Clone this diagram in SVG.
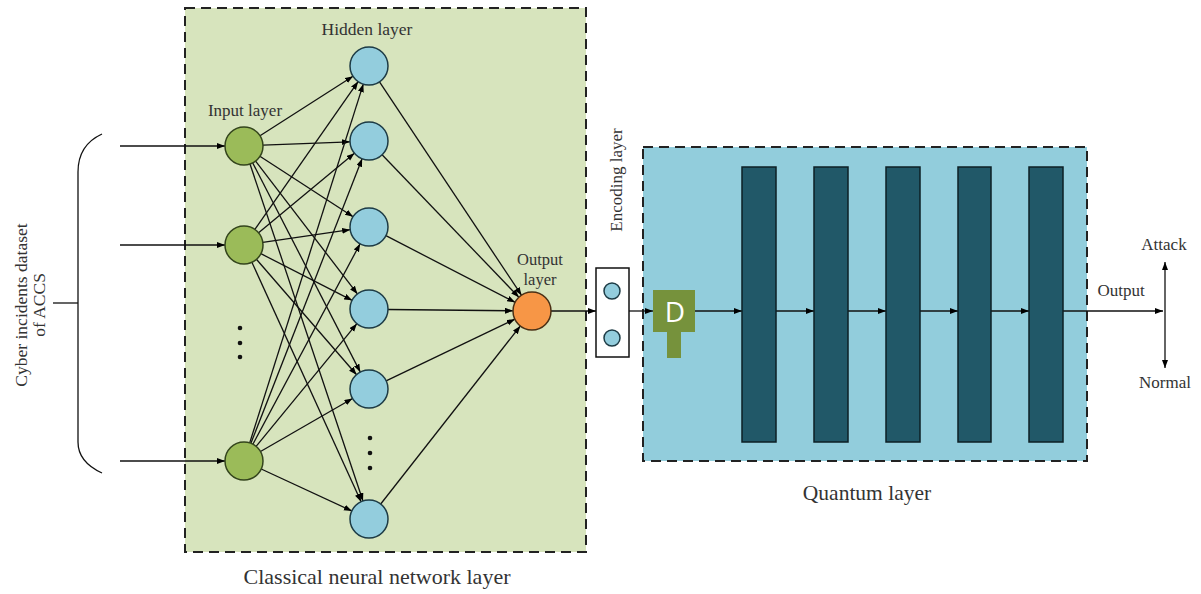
<svg xmlns="http://www.w3.org/2000/svg" width="1201" height="594" viewBox="0 0 1201 594">
<defs>
<marker id="ah" markerUnits="userSpaceOnUse" markerWidth="9" markerHeight="7" refX="8" refY="3" orient="auto">
<path d="M0,0 L8,3 L0,6 z" fill="#000"/>
</marker>
<style>
.lbl{font-family:"Liberation Serif",serif;fill:#333;}
.edge{stroke:#111;stroke-width:1.3;fill:none;marker-end:url(#ah);}
.plain{stroke:#111;stroke-width:1.3;fill:none;}
.inp{fill:#9bbb59;stroke:#33441c;stroke-width:1.5;}
.hid{fill:#93cddd;stroke:#1d3b45;stroke-width:1.5;}
.bar{fill:#215868;stroke:#0d1f25;stroke-width:1.5;}
.dot{fill:#111;}
</style>
</defs>
<rect width="1201" height="594" fill="#fff"/>

<g id="classical-box">
<rect x="185" y="8" width="401" height="544" fill="#d7e4bd" stroke="#222" stroke-width="2" stroke-dasharray="10,6"/>
</g>
<g id="quantum-box">
<rect x="643" y="147" width="444" height="314" fill="#92cddc" stroke="#222" stroke-width="2" stroke-dasharray="10,6"/>
</g>

<g id="dataset">
<path class="plain" d="M102,134 Q78,145 78,172 L78,442 Q78,462 102,473" stroke-width="1.8"/>
<line class="plain" x1="53" y1="303" x2="78" y2="303" stroke-width="1.8"/>
<text class="lbl" font-size="17.5" text-anchor="middle" transform="translate(27,305) rotate(-90)">Cyber incidents dataset</text>
<text class="lbl" font-size="17.5" text-anchor="middle" transform="translate(45,305) rotate(-90)">of ACCS</text>
</g>

<g id="connectors">
<line class="edge" x1="120" y1="146" x2="225" y2="146"/>
<line class="edge" x1="120" y1="245" x2="225" y2="245"/>
<line class="edge" x1="120" y1="461" x2="225" y2="461"/>

<line class="edge" x1="260.0" y1="135.8" x2="353.0" y2="76.2"/>
<line class="edge" x1="263.0" y1="145.2" x2="350.0" y2="141.8"/>
<line class="edge" x1="259.9" y1="156.3" x2="353.1" y2="216.7"/>
<line class="edge" x1="255.6" y1="161.1" x2="357.4" y2="293.9"/>
<line class="edge" x1="252.7" y1="162.9" x2="360.3" y2="372.1"/>
<line class="edge" x1="250.0" y1="164.0" x2="363.0" y2="501.0"/>

<line class="edge" x1="254.9" y1="229.4" x2="358.1" y2="81.6"/>
<line class="edge" x1="258.6" y1="232.8" x2="354.4" y2="153.2"/>
<line class="edge" x1="262.8" y1="242.3" x2="350.2" y2="229.7"/>
<line class="edge" x1="260.9" y1="253.7" x2="352.1" y2="300.3"/>
<line class="edge" x1="256.4" y1="259.3" x2="356.6" y2="374.7"/>
<line class="edge" x1="251.9" y1="262.3" x2="361.1" y2="501.7"/>

<line class="edge" x1="249.7" y1="442.9" x2="363.3" y2="84.1"/>
<line class="edge" x1="250.9" y1="443.3" x2="362.1" y2="158.7"/>
<line class="edge" x1="252.9" y1="444.2" x2="360.1" y2="243.8"/>
<line class="edge" x1="256.1" y1="446.3" x2="356.9" y2="323.7"/>
<line class="edge" x1="260.5" y1="451.5" x2="352.5" y2="398.5"/>
<line class="edge" x1="261.2" y1="469.0" x2="351.9" y2="511.0"/>

<line class="edge" x1="379.5" y1="81.8" x2="521.5" y2="295.2"/>
<line class="edge" x1="382.1" y1="154.7" x2="518.9" y2="297.3"/>
<line class="edge" x1="385.9" y1="235.7" x2="515.1" y2="302.3"/>
<line class="edge" x1="388" y1="309.5" x2="513" y2="310.8"/>
<line class="edge" x1="386.1" y1="380.8" x2="514.9" y2="319.2"/>
<line class="edge" x1="380.7" y1="504.0" x2="520.3" y2="326.0"/>

<line class="edge" x1="551" y1="311" x2="596" y2="311"/>
<line class="edge" x1="629" y1="311" x2="653" y2="311"/>
<line class="edge" x1="695" y1="311" x2="742" y2="311"/>
<line class="edge" x1="776" y1="311" x2="814" y2="311"/>
<line class="edge" x1="848" y1="311" x2="886" y2="311"/>
<line class="edge" x1="920" y1="311" x2="958" y2="311"/>
<line class="edge" x1="991" y1="311" x2="1029" y2="311"/>
<line class="edge" x1="1063" y1="311" x2="1163" y2="311"/>
<line class="edge" x1="1165" y1="312" x2="1165" y2="262"/>
<line class="edge" x1="1165" y1="312" x2="1165" y2="368"/>
</g>

<g id="input-layer">
<text class="lbl" font-size="17" text-anchor="middle" x="245" y="116">Input layer</text>
<circle class="inp" cx="244" cy="146" r="19"/>
<circle class="inp" cx="244" cy="245" r="19"/>
<circle class="inp" cx="244" cy="461" r="19"/>
<circle class="dot" cx="240" cy="328" r="2.3"/>
<circle class="dot" cx="240" cy="343" r="2.3"/>
<circle class="dot" cx="240" cy="357" r="2.3"/>
</g>

<g id="hidden-layer">
<text class="lbl" font-size="17.5" text-anchor="middle" x="367" y="35">Hidden layer</text>
<circle class="hid" cx="369" cy="66" r="19"/>
<circle class="hid" cx="369" cy="141" r="19"/>
<circle class="hid" cx="369" cy="227" r="19"/>
<circle class="hid" cx="369" cy="309" r="19"/>
<circle class="hid" cx="369" cy="389" r="19"/>
<circle class="hid" cx="369" cy="519" r="19"/>
<circle class="dot" cx="370" cy="438" r="2.3"/>
<circle class="dot" cx="370" cy="453" r="2.3"/>
<circle class="dot" cx="370" cy="468" r="2.3"/>
</g>

<g id="output-layer">
<text class="lbl" font-size="16.5" text-anchor="middle" x="540" y="265">Output</text>
<text class="lbl" font-size="16.5" text-anchor="middle" x="540" y="285">layer</text>
<circle cx="532" cy="311" r="19" fill="#f79646" stroke="#4a3015" stroke-width="1.5"/>
</g>

<g id="encoding-layer">
<text class="lbl" font-size="17" text-anchor="middle" transform="translate(622,180) rotate(-90)">Encoding layer</text>
<rect x="596" y="268" width="33" height="89" fill="#fff" stroke="#111" stroke-width="1.5"/>
<circle cx="612" cy="291" r="8" fill="#93cddd" stroke="#1d3b45" stroke-width="1.5"/>
<circle cx="612" cy="338" r="8" fill="#93cddd" stroke="#1d3b45" stroke-width="1.5"/>
</g>

<g id="d-gate">
<rect x="667" y="332" width="14" height="26" fill="#76923c"/>
<rect x="653" y="290" width="42" height="42" fill="#76923c"/>
<text x="675" y="322" font-family="Open Sans, sans-serif" font-size="28" fill="#fff" text-anchor="middle">D</text>
</g>

<g id="quantum-bars">
<rect class="bar" x="742" y="167" width="34" height="275"/>
<rect class="bar" x="814" y="167" width="34" height="275"/>
<rect class="bar" x="886" y="167" width="34" height="275"/>
<rect class="bar" x="958" y="167" width="33" height="275"/>
<rect class="bar" x="1029" y="167" width="34" height="275"/>
</g>

<g id="result">
<text class="lbl" font-size="17" text-anchor="middle" x="1121" y="296">Output</text>
<text class="lbl" font-size="17" text-anchor="middle" x="1164" y="250">Attack</text>
<text class="lbl" font-size="17" text-anchor="middle" x="1165" y="388">Normal</text>
</g>

<g id="captions">
<text class="lbl" font-size="21.5" text-anchor="middle" x="867" y="500">Quantum layer</text>
<text class="lbl" font-size="22" text-anchor="middle" x="377" y="584">Classical neural network layer</text>
</g>
</svg>
